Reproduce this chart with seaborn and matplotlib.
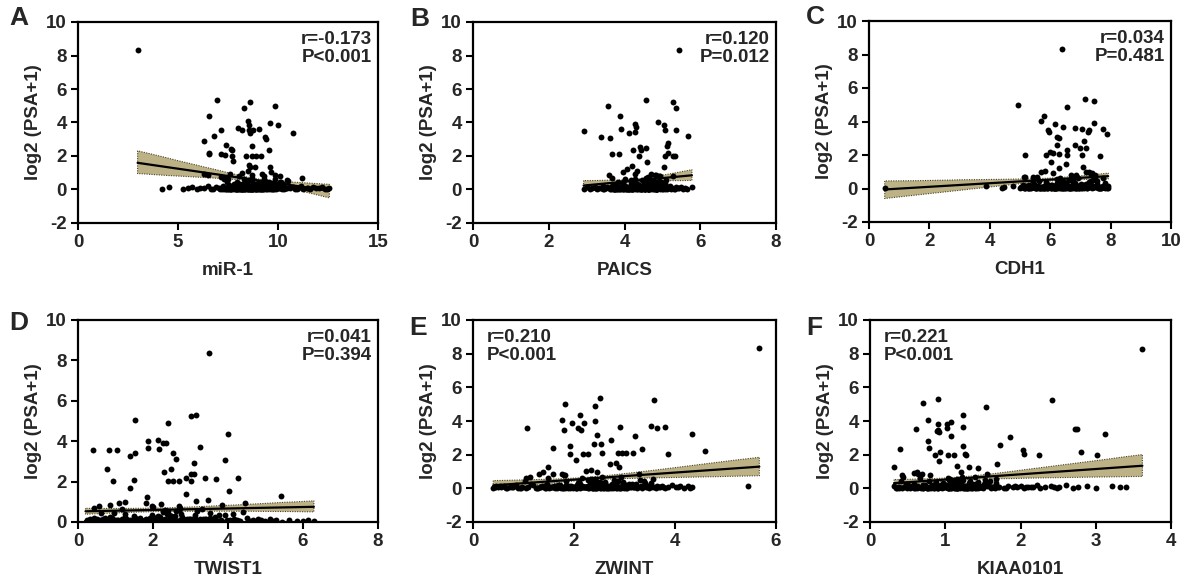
import numpy as np
import pandas as pd
import matplotlib
matplotlib.use("Agg")
import matplotlib.pyplot as plt
from matplotlib.collections import PolyCollection
import seaborn as sns

# ---------------- data ----------------
PANEL_LETTERS = ["A", "B", "C", "D", "E", "F"]
GENES = ["miR-1", "PAICS", "CDH1", "TWIST1", "ZWINT", "KIAA0101"]
R_TEXT = ["r=-0.173\nP<0.001", "r=0.120\nP=0.012", "r=0.034\nP=0.481",
          "r=0.041\nP=0.394", "r=0.210\nP<0.001", "r=0.221\nP<0.001"]
Y_LABEL = "log2 (PSA+1)"

# shared y values of the dense low cluster (same patients in all panels)
CORE_Y = [0.04, 0.10, 0.02, 0.25, 0.07, 0.12, 0.03, 0.45, 0.09, 0.05,
          0.14, 0.01, 0.08, 0.33, 0.06, 0.11, 0.02, 0.18, 0.70, 0.04,
          0.09, 0.13, 0.03, 0.22, 0.06, 0.01, 0.52, 0.10, 0.05, 0.15,
          0.02, 0.38, 0.08, 0.12, 0.04, 0.28, 0.07, 0.03, 0.11, 0.85,
          0.06, 0.16, 0.02, 0.09, 0.42, 0.05, 0.13, 0.01, 0.20, 0.08,
          0.03, 0.60, 0.10, 0.06, 0.14, 0.30, 0.04, 0.09, 0.02, 0.48,
          0.12, 0.05, 0.24, 0.07, 0.01, 0.15, 0.65, 0.03, 0.10, 0.06,
          0.35, 0.08, 0.02, 0.13, 0.55, 0.04, 0.11, 0.19, 0.06, 0.01,
          0.09, 0.27, 0.03, 0.14, 0.05, 0.78, 0.12, 0.07, 0.40, 0.02,
          0.10, 0.04, 0.17, 0.06, 0.32, 0.01, 0.13, 0.08, 0.95, 0.03,
          0.58, 0.11, 0.05, 0.21, 0.09, 0.02, 0.36, 0.14, 0.06, 0.04,
          0.12, 0.44, 0.07, 0.01, 0.16, 0.03, 0.62, 0.10, 0.05, 0.26]
CORE_Y2 = [0.05, 0.13, 0.02, 0.08, 0.30, 0.04, 0.11, 0.01, 0.17, 0.06,
           0.09, 0.03, 0.22, 0.12, 0.05, 0.50, 0.07, 0.02, 0.14, 0.10,
           0.04, 0.19, 0.08, 0.01, 0.12, 0.34, 0.06, 0.03, 0.15, 0.09,
           0.02, 0.11, 0.68, 0.05, 0.13, 0.07, 0.24, 0.03, 0.10, 0.04,
           0.16, 0.01, 0.08, 0.40, 0.06, 0.12, 0.02, 0.09, 0.20, 0.05,
           0.03, 0.14, 0.07, 0.01, 0.28, 0.10, 0.04, 0.56, 0.08, 0.02,
           0.12, 0.06, 0.18, 0.03, 0.09, 0.01, 0.36, 0.11, 0.05, 0.15,
           0.07, 0.02, 0.13, 0.46, 0.04, 0.10, 0.08, 0.01, 0.23, 0.06]
TAIL_Y = [0.02, 0.12, 0.05, 0.08, 0.15, 0.03, 0.10, 0.06, 0.18, 0.04,
          0.09, 0.13, 0.02, 0.07, 0.20, 0.05, 0.11, 0.03, 0.14, 0.08,
          0.06, 0.16, 0.04, 0.10, 0.02, 0.12, 0.07, 0.05, 0.09, 0.03]

# ---- A: miR-1 ----
A_hi_x = [2.98, 6.95, 8.60, 8.31, 9.83, 6.55, 8.51, 8.56, 9.59, 10.00,
          7.16, 8.01, 8.18, 8.53, 8.60, 8.76, 9.07, 10.75, 9.37, 9.40,
          6.78, 6.30, 7.40, 7.63, 7.70, 8.72, 9.55, 6.55, 6.57, 7.16,
          7.33, 7.72, 8.39, 8.72, 8.92, 9.14, 7.76, 8.54, 8.59, 8.87,
          9.58, 9.63, 11.20, 6.30, 6.48, 7.16, 7.35, 7.51, 8.05, 8.20,
          8.50, 8.70, 9.20, 9.30, 9.85, 10.10]
A_hi_y = [8.34, 5.34, 5.24, 4.84, 5.00, 4.38, 4.08, 3.88, 3.98, 3.88,
          3.58, 3.68, 3.58, 3.58, 3.40, 3.58, 3.62, 3.40, 3.14, 3.04,
          3.22, 2.88, 2.64, 2.44, 2.34, 2.58, 2.38, 2.18, 2.10, 2.14,
          2.04, 1.98, 1.98, 1.98, 1.98, 1.98, 1.68, 1.48, 1.34, 1.34,
          1.34, 1.04, 0.70, 0.90, 0.88, 0.74, 0.70, 0.60, 0.80, 1.00,
          1.10, 0.85, 0.90, 0.80, 0.64, 0.44]
A_core_x = [7.12, 8.43, 9.21, 7.85, 8.93, 8.07, 9.74, 7.46, 8.62, 8.01,
            9.38, 7.63, 8.81, 9.92, 8.24, 8.55, 7.21, 9.12, 8.71, 10.22,
            7.94, 8.33, 8.66, 9.51, 7.03, 8.88, 8.41, 10.04, 7.52, 9.33,
            8.14, 8.74, 9.63, 7.71, 9.02, 8.52, 10.41, 7.32, 8.22, 9.83,
            8.84, 9.24, 8.03, 7.61, 10.13, 8.45, 9.42, 8.63, 7.91, 9.05,
            10.32, 8.31, 7.43, 9.72, 8.95, 8.12, 9.54, 7.82, 8.51, 10.52,
            8.72, 9.14, 7.55, 8.21, 9.91, 8.02, 9.31, 8.83, 7.14, 9.62,
            8.42, 10.23, 7.73, 9.03, 8.61, 8.34, 9.81, 7.25, 9.44, 8.92,
            9.17, 8.27, 7.66, 9.58, 8.48, 10.08, 7.97, 8.79, 9.27, 7.38,
            8.56, 9.66, 8.16, 10.36, 7.79, 8.98, 9.47, 8.38, 7.58, 9.09,
            8.68, 9.36, 7.88, 8.47, 10.17, 8.09, 9.77, 7.49, 8.87, 9.19,
            8.29, 9.53, 7.99, 8.77, 9.96, 8.58, 7.28, 9.29, 8.19, 9.69]
A_core_x2 = [8.36, 9.07, 7.92, 8.81, 9.49, 8.13, 7.57, 9.26, 8.66, 10.01,
             8.46, 9.71, 7.77, 8.93, 8.26, 9.33, 7.47, 8.71, 9.87, 8.04,
             9.12, 8.56, 7.67, 9.41, 8.37, 10.27, 8.86, 7.97, 9.18, 8.49,
             8.18, 9.57, 7.36, 8.74, 9.97, 8.41, 9.02, 7.83, 8.61, 9.46,
             8.96, 7.62, 9.23, 8.31, 10.12, 8.52, 7.94, 9.37, 8.67, 9.78,
             7.51, 8.83, 9.11, 8.23, 9.64, 7.74, 8.59, 10.43, 8.11, 9.29,
             8.44, 7.87, 9.53, 8.69, 9.06, 7.41, 8.99, 9.83, 8.28, 7.69,
             9.39, 8.54, 10.06, 7.96, 8.89, 9.22, 8.33, 7.59, 9.74, 8.62]
A_tail_x = [4.21, 4.53, 5.27, 5.50, 5.72, 5.95, 6.12, 6.31, 6.48, 6.63,
            10.61, 10.73, 10.86, 11.02, 11.14, 11.27, 11.43, 11.61, 11.76, 11.92,
            12.06, 12.21, 12.36, 12.57, 6.77, 6.92, 10.47, 10.95, 11.52, 12.45]

# ---- B: PAICS ----
B_hi_x = [5.45, 4.56, 5.27, 3.56, 5.37, 3.88, 4.89, 5.05, 4.28, 4.30,
          4.29, 2.92, 3.90, 4.11, 5.08, 5.35, 3.39, 3.61, 5.67, 5.16,
          5.11, 5.16, 5.07, 5.27, 5.34, 3.68, 3.86, 4.22, 4.41, 4.44,
          4.39, 4.57, 4.59, 5.03, 4.21, 4.07, 3.95, 3.59, 4.70, 4.83,
          4.92, 5.29, 4.34, 4.63]
B_hi_y = [8.30, 5.35, 5.25, 5.00, 4.86, 4.36, 4.02, 3.88, 3.92, 3.72,
          3.46, 3.52, 3.64, 3.38, 3.56, 3.56, 3.12, 3.06, 3.20, 2.80,
          2.57, 2.17, 2.00, 2.00, 1.98, 2.13, 2.09, 2.37, 2.52, 2.37,
          2.00, 2.45, 1.63, 1.37, 1.40, 1.23, 1.03, 0.84, 0.94, 0.84,
          0.78, 0.80, 1.13, 0.74]
B_core_x = [3.91, 4.42, 4.83, 3.72, 4.61, 4.21, 5.02, 3.83, 4.52, 4.12,
            4.93, 3.63, 4.71, 5.07, 4.31, 4.46, 3.76, 4.77, 4.56, 4.03,
            4.16, 4.37, 4.66, 4.96, 3.66, 4.86, 4.26, 5.11, 3.86, 4.72,
            4.06, 4.51, 4.91, 3.96, 4.62, 4.36, 5.01, 3.71, 4.22, 4.81,
            4.41, 4.76, 4.11, 3.81, 4.97, 4.32, 4.67, 4.53, 4.01, 4.57,
            5.06, 4.27, 3.92, 4.87, 4.47, 4.17, 4.73, 3.61, 4.38, 4.92,
            4.49, 4.63, 3.77, 4.23, 4.82, 4.07, 4.68, 4.43, 3.87, 4.78,
            4.33, 4.98, 3.97, 4.58, 4.46, 4.28, 4.88, 3.68, 4.74, 4.54,
            4.14, 4.39, 3.79, 4.64, 4.19, 4.94, 3.89, 4.48, 4.59, 4.09,
            4.34, 4.84, 3.99, 4.69, 4.24, 4.44, 5.04, 3.74, 4.29, 4.79,
            4.18, 4.57, 3.84, 4.89, 4.36, 4.04, 4.65, 3.94, 4.45, 4.99,
            4.25, 4.71, 3.82, 4.55, 4.13, 4.85, 4.02, 4.41, 3.64, 4.61]
B_core_x2 = [4.34, 4.72, 4.08, 4.58, 4.91, 4.21, 3.86, 4.67, 4.43, 5.03,
             4.29, 4.82, 3.93, 4.51, 4.16, 4.77, 3.71, 4.47, 4.97, 4.11,
             4.63, 4.39, 3.81, 4.86, 4.26, 5.08, 4.56, 3.98, 4.69, 4.36,
             4.19, 4.88, 3.67, 4.53, 4.99, 4.31, 4.62, 3.89, 4.44, 4.79,
             4.57, 3.78, 4.74, 4.24, 5.05, 4.41, 3.96, 4.66, 4.49, 4.93,
             3.73, 4.54, 4.71, 4.14, 4.84, 3.83, 4.46, 5.09, 4.06, 4.64,
             4.37, 3.91, 4.81, 4.52, 4.68, 3.69, 4.59, 4.94, 4.23, 3.85,
             4.76, 4.42, 5.01, 3.95, 4.61, 4.73, 4.32, 3.76, 4.89, 4.48]
B_tail_x = [2.92, 3.01, 3.08, 3.15, 3.22, 3.28, 3.33, 3.38, 3.42, 3.46,
            3.50, 3.53, 5.12, 5.16, 5.19, 5.23, 5.26, 5.31, 5.35, 5.41,
            5.45, 5.50, 5.55, 5.60, 5.64, 5.78, 3.25, 3.44, 5.21, 5.33]

# ---- C: CDH1 ----
C_hi_x = [6.38, 4.94, 7.15, 7.44, 6.57, 5.80, 5.68, 6.15, 6.43, 6.82,
          7.06, 7.26, 7.29, 7.46, 7.76, 7.89, 5.93, 5.96, 6.23, 6.29,
          7.13, 6.21, 6.82, 6.98, 7.20, 5.17, 5.86, 5.99, 6.08, 6.30,
          6.54, 6.54, 7.04, 7.65, 6.02, 6.28, 6.51, 7.09, 5.71, 5.82,
          5.16, 5.44, 5.55, 7.20, 7.30, 7.40, 6.70, 6.85]
C_hi_y = [8.35, 5.00, 5.34, 5.24, 4.84, 4.34, 4.04, 3.84, 3.66, 3.60,
          3.54, 3.40, 3.50, 3.90, 3.56, 3.24, 3.50, 3.36, 3.10, 3.04,
          2.86, 2.60, 2.60, 2.40, 2.44, 2.00, 2.00, 2.16, 2.10, 2.04,
          2.30, 2.00, 2.00, 1.96, 1.60, 1.24, 1.44, 1.30, 1.00, 1.04,
          0.70, 0.70, 0.70, 0.96, 0.96, 0.90, 0.80, 0.80]
C_core_x = [5.62, 6.41, 7.22, 5.91, 6.83, 6.22, 7.61, 5.43, 6.62, 6.03,
            7.42, 5.72, 6.93, 7.81, 6.33, 6.52, 5.53, 7.13, 6.71, 6.12,
            5.82, 6.44, 6.63, 7.32, 5.23, 6.91, 6.36, 7.71, 5.66, 7.02,
            6.06, 6.76, 7.52, 5.96, 7.06, 6.46, 7.86, 5.36, 6.26, 7.36,
            6.86, 7.16, 6.16, 5.76, 7.56, 6.56, 7.26, 6.66, 6.01, 6.96,
            7.66, 6.31, 5.86, 7.46, 6.72, 6.21, 7.11, 5.56, 6.42, 7.41,
            6.81, 7.01, 5.46, 6.11, 7.21, 6.07, 6.92, 6.61, 5.13, 7.31,
            6.51, 7.76, 5.92, 6.97, 6.77, 6.37, 7.62, 5.31, 7.07, 6.87,
            6.18, 7.18, 5.68, 6.68, 6.48, 7.48, 5.98, 6.88, 7.28, 6.28,
            6.58, 7.38, 5.78, 6.78, 6.38, 7.68, 5.58, 6.98, 6.08, 7.58,
            6.24, 7.24, 5.88, 6.54, 7.44, 6.14, 6.74, 7.14, 5.48, 6.94,
            6.34, 7.34, 5.84, 6.64, 7.04, 6.44, 7.74, 5.64, 6.84, 7.54]
C_core_x2 = [6.02, 6.55, 5.65, 6.32, 6.82, 5.78, 5.34, 6.48, 6.12, 7.08,
             5.91, 6.72, 5.46, 6.23, 5.84, 6.63, 5.21, 6.17, 6.99, 5.69,
             6.43, 6.07, 5.39, 6.78, 5.93, 7.32, 6.28, 5.54, 6.51, 5.99,
             5.81, 6.91, 5.12, 6.19, 7.21, 5.96, 6.46, 5.49, 6.09, 6.87,
             6.39, 5.29, 6.67, 5.87, 7.43, 6.15, 5.57, 6.76, 6.25, 6.96,
             5.26, 6.31, 6.59, 5.75, 7.03, 5.42, 6.13, 7.47, 5.71, 6.68,
             6.05, 5.51, 6.84, 6.21, 6.53, 5.17, 6.45, 7.12, 5.89, 5.41,
             6.71, 6.18, 7.29, 5.62, 6.36, 6.61, 5.94, 5.32, 7.06, 6.23]
C_tail_x = [0.52, 3.86, 4.42, 4.46, 4.77, 5.01, 5.03, 5.06, 5.09, 5.12,
            5.15, 5.19, 5.25, 5.29, 7.80, 7.82, 7.85, 7.88, 7.90, 7.71,
            7.73, 7.76, 7.63, 7.66, 5.17, 5.22, 5.27, 7.69, 7.78, 7.92]

# ---- D: TWIST1 ----
D_hi_x = [3.48, 3.00, 3.14, 1.53, 2.41, 3.99, 1.87, 1.87, 2.14, 2.17,
          2.27, 2.35, 0.40, 0.82, 1.03, 1.39, 1.51, 2.53, 2.61, 3.25,
          3.93, 3.08, 0.78, 2.30, 2.49, 3.00, 3.10, 3.39, 3.68, 4.27,
          0.93, 1.50, 2.41, 2.52, 2.69, 2.89, 3.00, 1.39, 2.89, 4.03,
          5.41, 1.85, 1.25, 0.56, 0.85, 4.46, 3.46, 3.14, 2.20, 2.70,
          1.80, 2.00]
D_hi_y = [8.35, 5.25, 5.32, 5.04, 4.88, 4.38, 4.00, 3.64, 4.05, 3.60,
          3.92, 3.92, 3.57, 3.57, 3.57, 3.26, 3.42, 3.42, 3.14, 3.72,
          3.07, 2.91, 2.64, 2.48, 2.60, 2.40, 2.40, 2.18, 2.13, 2.20,
          2.05, 2.07, 2.02, 2.02, 2.03, 2.18, 2.03, 1.69, 1.40, 1.52,
          1.31, 1.24, 1.00, 0.78, 0.85, 0.96, 1.10, 1.02, 0.90, 0.80,
          0.95, 0.75]
D_core_x = [1.12, 2.43, 3.21, 0.85, 2.93, 1.67, 3.74, 0.62, 2.56, 2.01,
            3.38, 1.33, 2.81, 3.92, 1.84, 2.52, 0.95, 3.12, 2.71, 4.22,
            1.54, 2.33, 2.66, 3.51, 0.73, 2.88, 2.41, 4.04, 1.45, 3.33,
            2.14, 2.74, 3.63, 1.21, 3.02, 2.47, 4.31, 0.54, 2.22, 3.83,
            2.84, 3.24, 2.03, 1.61, 4.13, 2.45, 3.42, 2.63, 1.91, 3.05,
            4.28, 2.31, 1.03, 3.72, 2.95, 2.12, 3.54, 1.82, 2.51, 4.41,
            2.72, 3.14, 1.25, 2.21, 3.91, 2.02, 3.31, 2.83, 0.68, 3.62,
            2.42, 4.23, 1.73, 3.03, 2.61, 2.34, 3.81, 0.91, 3.44, 2.92,
            1.38, 2.18, 3.58, 1.16, 2.78, 1.98, 3.28, 1.58, 2.38, 0.78,
            2.58, 3.68, 1.88, 4.06, 1.48, 2.98, 3.48, 2.28, 1.08, 3.18,
            2.68, 3.36, 1.78, 2.48, 3.96, 2.08, 3.76, 1.28, 2.88, 3.22,
            2.26, 3.52, 1.96, 2.76, 4.16, 2.56, 1.18, 3.26, 2.16, 3.66]
D_core_x2 = [1.36, 2.07, 0.94, 1.79, 2.49, 1.13, 0.47, 1.91, 1.57, 2.87,
             1.26, 2.61, 0.71, 1.62, 1.08, 2.27, 0.32, 1.67, 2.79, 0.99,
             2.16, 1.52, 0.58, 2.39, 1.29, 3.11, 1.86, 0.87, 2.09, 1.44,
             1.16, 2.56, 0.42, 1.73, 2.98, 1.39, 1.99, 0.76, 1.59, 2.46,
             1.94, 0.52, 2.19, 1.24, 3.06, 1.49, 0.92, 2.34, 1.64, 2.71,
             0.61, 1.81, 2.11, 1.19, 2.59, 0.64, 1.54, 3.16, 1.06, 2.24,
             1.47, 0.83, 2.52, 1.69, 2.06, 0.37, 1.97, 2.84, 1.27, 0.66,
             2.37, 1.55, 2.91, 0.95, 1.87, 2.17, 1.32, 0.45, 2.77, 1.61]
D_tail_x = [0.20, 0.23, 0.26, 0.28, 0.31, 0.34, 0.36, 0.39, 0.42, 0.44,
            0.47, 0.50, 0.22, 0.29, 4.51, 4.58, 4.66, 4.70, 4.79, 4.88,
            4.99, 5.12, 5.21, 5.29, 5.44, 5.62, 5.85, 5.99, 6.12, 6.29]

# ---- E: ZWINT ----
E_hi_x = [5.67, 2.51, 3.59, 1.82, 2.41, 2.11, 1.76, 2.41, 1.96, 2.20,
          2.08, 2.14, 1.80, 1.07, 2.92, 3.53, 3.65, 3.81, 4.34, 2.46,
          3.21, 2.74, 2.39, 2.53, 1.58, 3.34, 1.93, 1.92, 2.17, 2.27,
          2.55, 2.88, 2.95, 3.02, 3.17, 3.87, 4.60, 2.03, 1.49, 2.72,
          2.84, 2.89, 2.24, 2.34, 2.45, 1.05, 1.31, 1.58, 1.76, 1.83,
          5.45]
E_hi_y = [8.36, 5.37, 5.27, 5.03, 4.88, 4.38, 4.08, 3.98, 3.90, 3.90,
          3.58, 3.44, 3.44, 3.58, 3.64, 3.70, 3.58, 3.64, 3.24, 3.14,
          3.08, 2.89, 2.65, 2.61, 2.41, 2.35, 2.49, 2.05, 2.05, 2.05,
          2.11, 2.08, 2.10, 2.12, 2.09, 2.05, 2.19, 1.69, 1.29, 1.45,
          1.53, 1.25, 1.05, 1.08, 0.95, 0.64, 0.86, 0.85, 0.85, 0.80,
          0.14]
E_core_x = [1.42, 2.23, 2.91, 1.15, 2.63, 1.87, 3.34, 1.02, 2.46, 2.01,
            3.08, 1.63, 2.71, 3.52, 1.94, 2.36, 1.25, 2.82, 2.55, 1.78,
            1.71, 2.13, 2.41, 3.21, 1.08, 2.68, 2.28, 3.44, 1.55, 2.96,
            2.04, 2.51, 3.13, 1.36, 2.77, 2.32, 3.58, 0.93, 2.09, 3.28,
            2.58, 2.86, 1.98, 1.67, 3.39, 2.25, 3.01, 2.44, 1.84, 2.74,
            3.48, 2.16, 1.32, 3.17, 2.61, 2.07, 3.05, 1.59, 2.38, 3.31,
            2.49, 2.79, 1.46, 2.19, 3.25, 1.91, 2.93, 2.53, 0.98, 3.11,
            2.35, 3.42, 1.74, 2.66, 2.42, 2.27, 3.36, 1.19, 2.99, 2.57,
            1.88, 2.11, 1.51, 2.31, 2.84, 1.81, 2.64, 2.02, 2.47, 1.29,
            2.21, 3.03, 1.69, 3.55, 2.39, 2.73, 1.95, 2.17, 1.39, 2.89,
            2.33, 2.56, 1.77, 2.06, 3.19, 1.92, 2.97, 1.62, 2.43, 2.69,
            2.14, 2.87, 1.86, 2.29, 3.46, 2.37, 1.49, 2.76, 1.99, 3.23]
E_core_x2 = [2.26, 2.71, 1.88, 2.49, 2.97, 2.06, 1.61, 2.63, 2.37, 3.26,
             2.18, 2.86, 1.72, 2.44, 2.01, 2.79, 1.35, 2.41, 3.14, 1.93,
             2.66, 2.31, 1.53, 2.93, 2.16, 3.41, 2.58, 1.79, 2.68, 2.29,
             2.12, 3.07, 1.12, 2.47, 3.33, 2.22, 2.76, 1.66, 2.34, 2.99,
             2.73, 1.44, 2.88, 2.09, 3.49, 2.39, 1.83, 2.91, 2.51, 3.18,
             1.27, 2.55, 2.81, 2.03, 3.09, 1.57, 2.36, 3.57, 1.97, 2.84,
             2.28, 1.76, 3.02, 2.52, 2.78, 1.05, 2.62, 3.22, 2.14, 1.41,
             2.94, 2.45, 3.38, 1.85, 2.59, 2.82, 2.24, 0.96, 3.15, 2.43]
E_tail_x = [0.40, 0.45, 0.50, 0.56, 0.62, 0.68, 0.74, 0.80, 0.86, 3.62,
            3.68, 3.74, 3.80, 3.87, 3.95, 4.02, 4.10, 4.18, 4.26, 4.33,
            0.43, 0.53, 0.65, 0.77, 0.89, 3.65, 3.71, 3.77, 4.06, 4.29]

# ---- F: KIAA0101 ----
F_hi_x = [3.62, 2.42, 1.54, 0.90, 0.70, 0.61, 0.77, 0.90, 0.91, 0.89,
          0.92, 1.02, 1.08, 1.02, 1.23, 1.24, 1.07, 0.77, 0.78, 0.86,
          0.93, 0.92, 1.03, 1.12, 1.23, 1.26, 1.28, 0.40, 0.32, 1.16,
          1.69, 1.73, 1.86, 2.03, 2.05, 2.25, 2.72, 2.75, 3.12, 2.80,
          3.02, 0.59, 0.64, 0.69, 0.43, 1.32, 1.43, 1.21]
F_hi_y = [8.30, 5.24, 4.84, 5.32, 5.04, 3.54, 4.04, 3.84, 3.46, 3.40,
          3.36, 3.84, 3.96, 3.60, 4.34, 3.66, 3.08, 2.84, 2.40, 2.00,
          2.16, 1.64, 1.96, 1.96, 2.54, 2.04, 1.96, 2.36, 1.24, 1.30,
          1.44, 2.60, 3.04, 2.30, 2.04, 2.00, 3.54, 3.54, 3.20, 2.16,
          1.96, 0.90, 0.88, 0.86, 0.80, 1.24, 1.18, 1.00]
F_core_x = [0.62, 1.13, 1.44, 0.48, 1.27, 0.86, 1.61, 0.41, 1.19, 0.93,
            1.52, 0.71, 1.33, 1.68, 0.89, 1.08, 0.53, 1.38, 1.22, 0.77,
            0.74, 1.01, 1.16, 1.57, 0.45, 1.29, 1.05, 1.64, 0.66, 1.42,
            0.96, 1.21, 1.49, 0.57, 1.35, 1.11, 1.72, 0.36, 0.99, 1.55,
            1.24, 1.36, 0.91, 0.69, 1.59, 1.06, 1.45, 1.17, 0.82, 1.31,
            1.66, 1.03, 0.55, 1.47, 1.25, 0.97, 1.40, 0.64, 1.14, 1.53,
            1.19, 1.34, 0.59, 1.04, 1.50, 0.88, 1.39, 1.20, 0.39, 1.46,
            1.09, 1.63, 0.76, 1.28, 1.15, 1.07, 1.56, 0.50, 1.37, 1.23,
            0.84, 0.98, 0.68, 1.10, 1.32, 0.80, 1.26, 0.94, 1.12, 0.60,
            1.02, 1.41, 0.73, 1.70, 1.08, 1.30, 0.87, 1.00, 0.63, 1.36,
            1.06, 1.18, 0.79, 0.95, 1.48, 0.85, 1.43, 0.72, 1.13, 1.27,
            0.92, 1.33, 0.81, 1.04, 1.58, 1.11, 0.67, 1.24, 0.90, 1.51]
F_core_x2 = [0.98, 1.19, 0.81, 1.09, 1.31, 0.89, 0.63, 1.16, 1.04, 1.47,
             0.94, 1.26, 0.71, 1.06, 0.86, 1.23, 0.52, 1.03, 1.39, 0.83,
             1.13, 1.00, 0.61, 1.29, 0.92, 1.57, 1.11, 0.76, 1.18, 0.96,
             0.90, 1.37, 0.44, 1.07, 1.49, 0.95, 1.21, 0.70, 1.01, 1.33,
             1.17, 0.58, 1.27, 0.88, 1.62, 1.02, 0.79, 1.28, 1.10, 1.41,
             0.49, 1.12, 1.24, 0.85, 1.36, 0.65, 1.05, 1.67, 0.84, 1.25,
             0.99, 0.73, 1.34, 1.08, 1.20, 0.42, 1.14, 1.44, 0.93, 0.56,
             1.30, 1.05, 1.52, 0.78, 1.15, 1.22, 0.97, 0.38, 1.40, 1.06]
F_tail_x = [1.78, 1.84, 1.90, 1.96, 2.01, 2.04, 2.10, 2.17, 2.22, 2.26,
            2.32, 2.40, 2.48, 2.51, 2.60, 2.77, 2.88, 3.00, 3.21, 3.32,
            3.40, 0.32, 0.34, 0.37, 1.81, 1.93, 2.07, 2.14, 2.45, 2.70]

X_LIMITS = [(0, 15), (0, 8), (0, 10), (0, 8), (0, 6), (0, 4)]
X_TICKS = [[0, 5, 10, 15], [0, 2, 4, 6, 8], [0, 2, 4, 6, 8, 10],
           [0, 2, 4, 6, 8], [0, 2, 4, 6], [0, 1, 2, 3, 4]]
Y_LIMITS = [(-2, 10), (-2, 10), (-2, 10), (0, 10), (-2, 10), (-2, 10)]

# ---------------- style ----------------
sns.set_theme(style="ticks")
plt.rcParams["font.family"] = ["Liberation Sans", "DejaVu Sans"]
plt.rcParams["font.weight"] = "bold"
plt.rcParams["axes.labelweight"] = "bold"
plt.rcParams["axes.unicode_minus"] = False

BAND = "#bcb286"
BAND_EDGE = "#4a4328"
FS = 13.5

W, H = 1187, 580
fig = plt.figure(figsize=(W / 100, H / 100), dpi=100)

# axes boxes in pixels: left, top, right, bottom
BOXES = [(78, 22, 378, 223), (473, 22, 776, 223), (869, 21, 1171, 222),
         (78, 320, 378, 522), (473, 320, 776, 522), (870, 320, 1171, 522)]
LETTER_POS = [(9, 6), (410, 7), (806, 5), (9, 311), (409, 316), (806, 316)]

panels = [
    (A_hi_x, A_hi_y, A_core_x + A_core_x2, A_tail_x),
    (B_hi_x, B_hi_y, B_core_x + B_core_x2, B_tail_x),
    (C_hi_x, C_hi_y, C_core_x + C_core_x2, C_tail_x),
    (D_hi_x, D_hi_y, D_core_x + D_core_x2, D_tail_x),
    (E_hi_x, E_hi_y, E_core_x + E_core_x2, E_tail_x),
    (F_hi_x, F_hi_y, F_core_x + F_core_x2, F_tail_x),
]

for i, (hx, hy, cx, tx) in enumerate(panels):
    l, t, r, b = BOXES[i]
    ax = fig.add_axes([l / W, 1 - b / H, (r - l) / W, (b - t) / H])
    df = pd.DataFrame({"x": list(hx) + list(cx) + list(tx),
                       "y": list(hy) + CORE_Y + CORE_Y2 + TAIL_Y})
    sns.regplot(data=df, x="x", y="y", ax=ax, ci=80, n_boot=1000, seed=3,
                truncate=True,
                scatter_kws=dict(s=18, color="black", linewidths=0, alpha=1,
                                 zorder=3),
                line_kws=dict(color="black", lw=1.6, zorder=5))
    for coll in ax.collections:
        if isinstance(coll, PolyCollection):
            coll.set_facecolor(BAND)
            coll.set_alpha(1)
            coll.set_edgecolor(BAND_EDGE)
            coll.set_linestyle((0, (1, 1.2)))
            coll.set_linewidth(0.8)
            coll.set_zorder(2)
    ax.set_xlim(*X_LIMITS[i])
    ax.set_ylim(*Y_LIMITS[i])
    ax.set_xticks(X_TICKS[i])
    ax.set_yticks(range(Y_LIMITS[i][0], 11, 2))
    ax.set_xlabel(GENES[i], fontsize=FS, fontweight="bold", labelpad=8)
    ax.set_ylabel(Y_LABEL, fontsize=FS, fontweight="bold", labelpad=3)
    ax.tick_params(axis="both", direction="out", length=5, width=1.5,
                   labelsize=FS, pad=3, color="black")
    for lab in ax.get_xticklabels() + ax.get_yticklabels():
        lab.set_fontweight("bold")
    for sp in ax.spines.values():
        sp.set_visible(True)
        sp.set_linewidth(1.6)
        sp.set_color("black")
    if i >= 4:
        ax.text(0.045, 0.955, R_TEXT[i], transform=ax.transAxes, ha="left",
                va="top", fontsize=FS, fontweight="bold", linespacing=1.1)
    else:
        ax.text(0.98, 0.955, R_TEXT[i], transform=ax.transAxes, ha="right",
                va="top", fontsize=FS, fontweight="bold", linespacing=1.1)
    lx, ly = LETTER_POS[i]
    fig.text(lx / W, 1 - ly / H, PANEL_LETTERS[i], ha="left", va="top",
             fontsize=19, fontweight="bold")

fig.savefig("out.png", dpi=100)
